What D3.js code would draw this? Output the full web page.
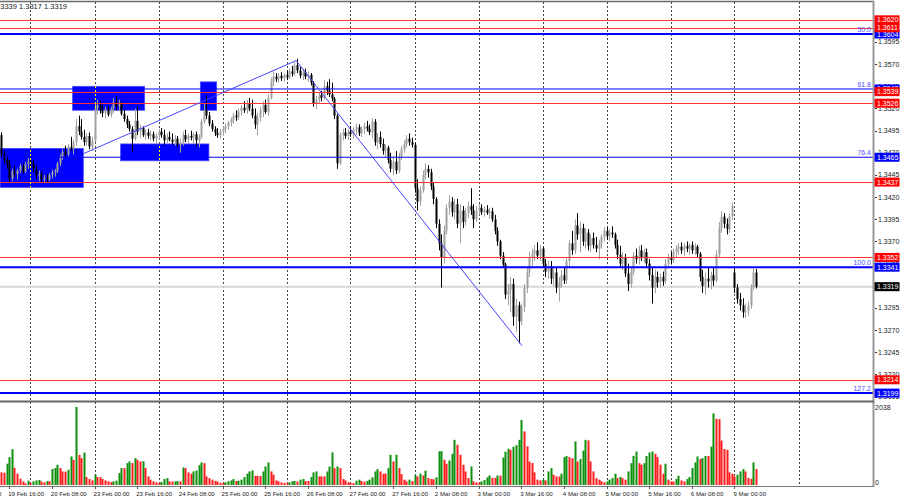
<!DOCTYPE html>
<html><head><meta charset="utf-8">
<script src="https://cdn.jsdelivr.net/npm/d3@7"></script>
<style>body{margin:0;background:#fff;} svg{display:block;font-family:"Liberation Sans",Arial,sans-serif;}</style>
</head><body><svg id="c" width="900" height="500"></svg>
<script>
// ---------- DATA ----------
const tradingDays = ["19 Feb","20 Feb","23 Feb","24 Feb","25 Feb","26 Feb","27 Feb","2 Mar","3 Mar","4 Mar","5 Mar","6 Mar","9 Mar","10 Mar"];
const firstBarHour = 13; // first bar: 19 Feb 13:00 (H1 bars)
const opens = [1.3490,1.3468,1.3462,1.3456,1.3441,1.3449,1.3446,1.3450,1.3455,1.3449,1.3457,
1.3461,1.3458,1.3452,1.3444,1.3446,1.3440,1.3442,1.3440,1.3445,1.3448,
1.3450,1.3458,1.3466,1.3471,1.3468,1.3477,1.3475,1.3482,1.3500,1.3494,
1.3488,1.3482,1.3489,1.3477,1.3484,1.3520,1.3524,1.3518,1.3515,1.3519,
1.3513,1.3520,1.3527,1.3522,1.3527,1.3514,1.3508,1.3502,1.3497,1.3486,
1.3506,1.3494,1.3498,1.3490,1.3493,1.3489,1.3491,1.3486,1.3489,1.3494,
1.3490,1.3484,1.3488,1.3485,1.3482,1.3486,1.3479,1.3482,1.3490,1.3485,
1.3489,1.3487,1.3491,1.3484,1.3488,1.3505,1.3518,1.3512,1.3503,1.3497,
1.3492,1.3490,1.3494,1.3497,1.3500,1.3504,1.3507,1.3512,1.3510,1.3517,
1.3521,1.3518,1.3526,1.3520,1.3512,1.3502,1.3510,1.3518,1.3524,1.3516,
1.3532,1.3550,1.3556,1.3553,1.3557,1.3554,1.3558,1.3555,1.3562,1.3559,
1.3569,1.3563,1.3557,1.3561,1.3556,1.3558,1.3549,1.3526,1.3530,1.3535,
1.3532,1.3545,1.3540,1.3536,1.3531,1.3512,1.3458,1.3490,1.3493,1.3489,
1.3494,1.3491,1.3496,1.3499,1.3492,1.3497,1.3500,1.3497,1.3493,1.3505,
1.3482,1.3488,1.3480,1.3472,1.3476,1.3462,1.3452,1.3460,1.3450,1.3466,
1.3474,1.3480,1.3486,1.3482,1.3479,1.3430,1.3415,1.3428,1.3445,1.3452,
1.3448,1.3432,1.3418,1.3390,1.3368,1.3352,1.3382,1.3408,1.3415,1.3403,
1.3412,1.3390,1.3405,1.3392,1.3402,1.3410,1.3405,1.3395,1.3405,1.3408,
1.3403,1.3406,1.3402,1.3404,1.3395,1.3382,1.3370,1.3354,1.3344,1.3310,
1.3315,1.3322,1.3285,1.3298,1.3280,1.3296,1.3318,1.3336,1.3352,1.3356,
1.3360,1.3354,1.3362,1.3345,1.3336,1.3342,1.3328,1.3335,1.3318,1.3325,
1.3332,1.3326,1.3348,1.3368,1.3360,1.3388,1.3378,1.3385,1.3370,1.3380,
1.3365,1.3374,1.3366,1.3362,1.3368,1.3375,1.3382,1.3376,1.3380,1.3378,
1.3366,1.3355,1.3345,1.3352,1.3334,1.3322,1.3336,1.3354,1.3350,1.3360,
1.3352,1.3358,1.3345,1.3332,1.3318,1.3330,1.3324,1.3330,1.3325,1.3345,
1.3352,1.3349,1.3358,1.3362,1.3364,1.3360,1.3365,1.3362,1.3366,1.3360,
1.3364,1.3356,1.3330,1.3320,1.3328,1.3325,1.3332,1.3326,1.3355,1.3385,
1.3398,1.3390,1.3384,1.3398,1.3335,1.3318,1.3305,1.3298,1.3290,1.3292,
1.3298,1.3318,1.3335];
const highs = [1.3493,1.3472,1.3466,1.3462,1.3452,1.3455,1.3452,1.3458,1.3458,1.3460,1.3464,
1.3468,1.3462,1.3456,1.3450,1.3449,1.3445,1.3446,1.3447,1.3451,1.3452,
1.3460,1.3468,1.3474,1.3478,1.3480,1.3488,1.3485,1.3508,1.3512,1.3508,
1.3496,1.3492,1.3493,1.3488,1.3525,1.3530,1.3528,1.3524,1.3522,1.3523,
1.3522,1.3532,1.3534,1.3530,1.3528,1.3518,1.3512,1.3506,1.3500,1.3520,
1.3522,1.3502,1.3500,1.3496,1.3497,1.3495,1.3494,1.3492,1.3497,1.3498,
1.3496,1.3492,1.3494,1.3492,1.3490,1.3489,1.3486,1.3494,1.3496,1.3492,
1.3495,1.3493,1.3494,1.3491,1.3508,1.3526,1.3535,1.3516,1.3507,1.3500,
1.3498,1.3497,1.3500,1.3503,1.3506,1.3510,1.3515,1.3518,1.3520,1.3524,
1.3528,1.3530,1.3532,1.3530,1.3520,1.3515,1.3522,1.3528,1.3530,1.3536,
1.3555,1.3562,1.3560,1.3560,1.3561,1.3560,1.3563,1.3565,1.3568,1.3572,
1.3576,1.3567,1.3565,1.3565,1.3562,1.3560,1.3551,1.3534,1.3538,1.3540,
1.3552,1.3550,1.3553,1.3549,1.3533,1.3514,1.3493,1.3497,1.3498,1.3497,
1.3500,1.3499,1.3503,1.3502,1.3500,1.3504,1.3506,1.3502,1.3509,1.3508,
1.3492,1.3494,1.3486,1.3480,1.3478,1.3470,1.3466,1.3472,1.3470,1.3478,
1.3484,1.3490,1.3492,1.3487,1.3481,1.3440,1.3432,1.3450,1.3458,1.3456,
1.3452,1.3436,1.3420,1.3395,1.3378,1.3388,1.3412,1.3422,1.3420,1.3418,
1.3418,1.3412,1.3410,1.3408,1.3415,1.3430,1.3412,1.3410,1.3412,1.3412,
1.3410,1.3411,1.3408,1.3408,1.3400,1.3386,1.3372,1.3358,1.3346,1.3322,
1.3330,1.3328,1.3305,1.3302,1.3300,1.3322,1.3340,1.3358,1.3362,1.3366,
1.3369,1.3366,1.3364,1.3350,1.3348,1.3348,1.3340,1.3340,1.3330,1.3338,
1.3340,1.3352,1.3372,1.3382,1.3395,1.3402,1.3392,1.3390,1.3385,1.3384,
1.3378,1.3380,1.3375,1.3372,1.3378,1.3386,1.3386,1.3384,1.3387,1.3380,
1.3372,1.3365,1.3358,1.3356,1.3345,1.3340,1.3358,1.3362,1.3365,1.3366,
1.3362,1.3362,1.3350,1.3340,1.3338,1.3336,1.3334,1.3336,1.3350,1.3356,
1.3358,1.3362,1.3366,1.3368,1.3369,1.3368,1.3370,1.3368,1.3370,1.3368,
1.3366,1.3358,1.3338,1.3335,1.3340,1.3336,1.3340,1.3360,1.3392,1.3404,
1.3402,1.3396,1.3402,1.3414,1.3340,1.3322,1.3312,1.3306,1.3300,1.3302,
1.3322,1.3340,1.3339];
const lows = [1.3465,1.3458,1.3452,1.3437,1.3438,1.3443,1.3440,1.3447,1.3446,1.3447,1.3452,
1.3455,1.3448,1.3440,1.3438,1.3437,1.3436,1.3437,1.3438,1.3441,1.3443,
1.3447,1.3455,1.3462,1.3465,1.3466,1.3472,1.3468,1.3478,1.3490,1.3485,
1.3478,1.3478,1.3474,1.3472,1.3482,1.3513,1.3514,1.3510,1.3509,1.3511,
1.3510,1.3515,1.3518,1.3517,1.3512,1.3505,1.3498,1.3494,1.3471,1.3484,
1.3490,1.3487,1.3488,1.3485,1.3486,1.3484,1.3483,1.3480,1.3485,1.3487,
1.3478,1.3481,1.3483,1.3479,1.3478,1.3476,1.3470,1.3478,1.3482,1.3480,
1.3484,1.3480,1.3478,1.3476,1.3486,1.3503,1.3508,1.3500,1.3494,1.3489,
1.3487,1.3486,1.3489,1.3492,1.3496,1.3500,1.3503,1.3506,1.3507,1.3512,
1.3515,1.3514,1.3517,1.3509,1.3497,1.3490,1.3505,1.3510,1.3514,1.3512,
1.3530,1.3545,1.3550,1.3549,1.3551,1.3550,1.3552,1.3553,1.3556,1.3557,
1.3560,1.3554,1.3552,1.3553,1.3550,1.3546,1.3522,1.3519,1.3526,1.3528,
1.3530,1.3535,1.3533,1.3528,1.3508,1.3452,1.3456,1.3484,1.3486,1.3485,
1.3488,1.3486,1.3490,1.3489,1.3488,1.3491,1.3494,1.3490,1.3486,1.3478,
1.3474,1.3476,1.3468,1.3465,1.3458,1.3448,1.3445,1.3446,1.3447,1.3462,
1.3470,1.3476,1.3478,1.3476,1.3425,1.3405,1.3410,1.3425,1.3440,1.3442,
1.3428,1.3412,1.3385,1.3360,1.3318,1.3345,1.3378,1.3400,1.3398,1.3395,
1.3385,1.3368,1.3385,1.3388,1.3396,1.3400,1.3385,1.3392,1.3400,1.3400,
1.3398,1.3400,1.3396,1.3392,1.3378,1.3365,1.3350,1.3340,1.3305,1.3298,
1.3290,1.3275,1.3268,1.3255,1.3276,1.3290,1.3312,1.3330,1.3340,1.3348,
1.3350,1.3348,1.3340,1.3330,1.3328,1.3322,1.3320,1.3312,1.3302,1.3318,
1.3322,1.3322,1.3340,1.3355,1.3356,1.3372,1.3358,1.3365,1.3362,1.3360,
1.3358,1.3362,1.3358,1.3350,1.3362,1.3370,1.3372,1.3370,1.3374,1.3362,
1.3350,1.3340,1.3338,1.3330,1.3314,1.3318,1.3332,1.3345,1.3344,1.3348,
1.3346,1.3340,1.3326,1.3300,1.3312,1.3318,1.3318,1.3320,1.3322,1.3340,
1.3344,1.3346,1.3352,1.3355,1.3356,1.3354,1.3358,1.3355,1.3356,1.3355,
1.3352,1.3325,1.3312,1.3310,1.3318,1.3316,1.3320,1.3324,1.3352,1.3380,
1.3385,1.3378,1.3380,1.3394,1.3312,1.3300,1.3292,1.3284,1.3284,1.3286,
1.3294,1.3315,1.3317];
const closes = [1.3468,1.3462,1.3456,1.3441,1.3449,1.3446,1.3450,1.3455,1.3449,1.3457,1.3461,
1.3458,1.3452,1.3444,1.3446,1.3440,1.3442,1.3440,1.3445,1.3448,1.3450,
1.3458,1.3466,1.3471,1.3468,1.3477,1.3475,1.3482,1.3500,1.3494,1.3488,
1.3482,1.3489,1.3477,1.3484,1.3520,1.3524,1.3518,1.3515,1.3519,1.3513,
1.3520,1.3527,1.3522,1.3527,1.3514,1.3508,1.3502,1.3497,1.3486,1.3506,
1.3494,1.3498,1.3490,1.3493,1.3489,1.3491,1.3486,1.3489,1.3494,1.3490,
1.3484,1.3488,1.3485,1.3482,1.3486,1.3479,1.3482,1.3490,1.3485,1.3489,
1.3487,1.3491,1.3484,1.3488,1.3505,1.3518,1.3512,1.3503,1.3497,1.3492,
1.3490,1.3494,1.3497,1.3500,1.3504,1.3507,1.3512,1.3510,1.3517,1.3521,
1.3518,1.3526,1.3520,1.3512,1.3502,1.3510,1.3518,1.3524,1.3516,1.3532,
1.3550,1.3556,1.3553,1.3557,1.3554,1.3558,1.3555,1.3562,1.3559,1.3569,
1.3563,1.3557,1.3561,1.3556,1.3558,1.3549,1.3526,1.3530,1.3535,1.3532,
1.3545,1.3540,1.3536,1.3531,1.3512,1.3458,1.3490,1.3493,1.3489,1.3494,
1.3491,1.3496,1.3499,1.3492,1.3497,1.3500,1.3497,1.3493,1.3505,1.3482,
1.3488,1.3480,1.3472,1.3476,1.3462,1.3452,1.3460,1.3450,1.3466,1.3474,
1.3480,1.3486,1.3482,1.3479,1.3430,1.3415,1.3428,1.3445,1.3452,1.3448,
1.3432,1.3418,1.3390,1.3368,1.3352,1.3382,1.3408,1.3415,1.3403,1.3412,
1.3390,1.3405,1.3392,1.3402,1.3410,1.3405,1.3395,1.3405,1.3408,1.3403,
1.3406,1.3402,1.3404,1.3395,1.3382,1.3370,1.3354,1.3344,1.3310,1.3315,
1.3322,1.3285,1.3298,1.3280,1.3296,1.3318,1.3336,1.3352,1.3356,1.3360,
1.3354,1.3362,1.3345,1.3336,1.3342,1.3328,1.3335,1.3318,1.3325,1.3332,
1.3326,1.3348,1.3368,1.3360,1.3388,1.3378,1.3385,1.3370,1.3380,1.3365,
1.3374,1.3366,1.3362,1.3368,1.3375,1.3382,1.3376,1.3380,1.3378,1.3366,
1.3355,1.3345,1.3352,1.3334,1.3322,1.3336,1.3354,1.3350,1.3360,1.3352,
1.3358,1.3345,1.3332,1.3318,1.3330,1.3324,1.3330,1.3325,1.3345,1.3352,
1.3349,1.3358,1.3362,1.3364,1.3360,1.3365,1.3362,1.3366,1.3360,1.3364,
1.3356,1.3330,1.3320,1.3328,1.3325,1.3332,1.3326,1.3355,1.3385,1.3398,
1.3390,1.3384,1.3398,1.3410,1.3318,1.3305,1.3298,1.3290,1.3292,1.3298,
1.3318,1.3335,1.3319];
const volumes = [330,320,555,728,936,450,294,164,94,40,113,
60,95,120,130,90,70,100,95,420,442,
528,442,355,350,398,745,658,2038,788,702,
848,208,156,120,268,208,205,156,120,95,
78,95,112,311,442,440,572,615,572,702,
658,615,620,442,225,138,95,70,60,80,
160,180,95,90,95,100,95,460,440,330,
295,355,380,520,590,570,225,180,140,105,
90,60,60,70,100,120,155,105,113,140,
208,295,355,380,240,240,235,355,485,590,
355,270,120,95,70,55,55,70,95,105,
90,140,155,104,104,208,330,355,225,225,
225,355,485,850,442,485,442,156,120,70,
55,52,113,140,104,87,104,140,200,355,
415,355,295,295,440,790,615,790,440,285,
140,95,140,104,250,225,295,250,373,182,
156,150,200,880,885,660,555,640,815,1180,
1050,790,530,355,182,485,95,70,60,95,
130,200,250,190,185,250,245,720,870,950,
920,1000,1040,1180,1700,1400,1010,615,575,330,
140,120,140,120,355,440,270,225,220,295,
730,760,730,700,1140,615,680,900,1180,1165,
615,355,180,140,95,70,95,140,180,295,
180,210,180,140,355,570,760,875,570,530,
570,760,850,875,815,730,530,295,555,140,
95,90,156,243,120,95,156,208,442,590,
745,680,700,760,755,1000,1873,1730,1720,1160,
940,920,330,295,225,268,355,415,355,182,
160,590,415];
const volumeMax = 2038;
const priceTicks = [1.3595,1.3570,1.3545,1.3520,1.3495,1.3470,1.3445,1.3420,1.3395,1.3370,1.3345,1.3320,1.3295,1.3270,1.3245,1.3220,1.3195];
const redLevels = [1.3620,1.3611,1.3539,1.3526,1.3437,1.3352,1.3214];
const fibPercents = ["50.0","61.8","76.4","100.0","127.2"];
const fibPrices = [1.3604,1.3542,1.3465,1.3341,1.3199];
const lastPrice = 1.3319;
const headerText = "1.3339 1.3317 1.3319";
// zones (time in trading hours from 19 Feb 00:00, price)
const zoneT0 = [12.6, 39.8, 57.8, 87.7];
const zoneT1 = [43.8, 66.8, 90.9, 93.8];
const zoneHi = [1.3475, 1.3545, 1.3480, 1.3550];
const zoneLo = [1.3431, 1.3518, 1.3461, 1.3518];
// trend line anchors
const trendT = [43.8, 123.6, 208.3];
const trendP = [1.3469, 1.3574, 1.32525];

// ---------- LAYOUT ----------
const W = 900, H = 500, plotR = 873, mainTop = 2, mainBot = 400, volTop = 402, volBot = 486;
const svg = d3.select("#c");
const x = d3.scaleLinear().domain([0, 336]).range([-33.5, 862.5]);
const y = d3.scaleLinear().domain([1.31912, 1.36401]).range([mainBot, mainTop]);
const yv = d3.scaleLinear().domain([0, volumeMax]).range([485, 407]);
const n = Math.min(opens.length, highs.length, lows.length, closes.length);
const bars = d3.range(n).map(k => ({h: k + firstBarHour, o: opens[k], hi: highs[k], lo: lows[k], c: closes[k], v: volumes[k]}));

const defs = svg.append("defs");
defs.append("clipPath").attr("id","mainClip").append("rect").attr("x",0).attr("y",mainTop).attr("width",plotR).attr("height",mainBot-mainTop);
defs.append("clipPath").attr("id","volClip").append("rect").attr("x",0).attr("y",volTop).attr("width",plotR).attr("height",volBot-volTop);
const zoneClip = defs.append("clipPath").attr("id","zoneClip");
const zones = d3.range(zoneT0.length).map(i => ({t0: zoneT0[i], t1: zoneT1[i], hi: zoneHi[i], lo: zoneLo[i]}));
zones.forEach(z => zoneClip.append("rect").attr("x", x(z.t0)).attr("y", y(z.hi)).attr("width", x(z.t1)-x(z.t0)).attr("height", y(z.lo)-y(z.hi)));

svg.append("rect").attr("width",W).attr("height",H).attr("fill","#fff");
const main = svg.append("g").attr("clip-path","url(#mainClip)");

// zones
main.selectAll("rect.zone").data(zones).join("rect").attr("class","zone")
  .attr("x", d => x(d.t0)).attr("y", d => y(d.hi))
  .attr("width", d => x(d.t1)-x(d.t0)).attr("height", d => y(d.lo)-y(d.hi))
  .attr("fill","#0000ff").attr("stroke","#4a4aff").attr("stroke-width",0.8);

// grid
const dayStarts = d3.range(1, tradingDays.length).map(d => d*24);
const gridX = h => Math.round(x(h)) + 0.5;
main.selectAll("line.grid").data(dayStarts).join("line").attr("class","grid")
  .attr("x1",gridX).attr("x2",gridX).attr("y1",mainTop).attr("y2",mainBot)
  .attr("stroke","#444").attr("stroke-width",1).attr("stroke-dasharray","2,2");
svg.append("g").attr("clip-path","url(#zoneClip)").selectAll("line").data(dayStarts).join("line")
  .attr("x1",gridX).attr("x2",gridX).attr("y1",mainTop).attr("y2",mainBot)
  .attr("stroke","#ffff00").attr("stroke-width",1).attr("stroke-dasharray","2,2");
svg.append("g").attr("clip-path","url(#volClip)").selectAll("line").data(dayStarts).join("line")
  .attr("x1",gridX).attr("x2",gridX).attr("y1",volTop).attr("y2",volBot)
  .attr("stroke","#444").attr("stroke-width",1).attr("stroke-dasharray","2,2");

// bid line
main.append("line").attr("x1",0).attr("x2",plotR).attr("y1",y(lastPrice)).attr("y2",y(lastPrice))
  .attr("stroke","#d8d8d8").attr("stroke-width",2);

// candles
const bull = "#a0a0a0", bear = "#000";
const cg = main.append("g");
cg.selectAll("line.wick").data(bars).join("line").attr("class","wick")
  .attr("x1", d => Math.round(x(d.h))+0.5).attr("x2", d => Math.round(x(d.h))+0.5)
  .attr("y1", d => y(d.hi)).attr("y2", d => y(d.lo))
  .attr("stroke", d => d.c >= d.o ? bull : bear).attr("stroke-width",1);
cg.selectAll("rect.body").data(bars).join("rect").attr("class","body")
  .attr("x", d => Math.round(x(d.h))-0.5).attr("width",2)
  .attr("y", d => y(Math.max(d.o,d.c))).attr("height", d => Math.max(1, Math.abs(y(d.o)-y(d.c))))
  .attr("fill", d => d.c >= d.o ? bull : bear);

// level lines
main.selectAll("line.red").data(redLevels).join("line").attr("class","red")
  .attr("x1",0).attr("x2",plotR).attr("y1", d => Math.round(y(d))+0.5).attr("y2", d => Math.round(y(d))+0.5)
  .attr("stroke","#ff3030").attr("stroke-width",1);
const fibs = fibPrices.map((p,i) => ({p, pct: fibPercents[i], thick: i !== 1 && i !== 2}));
main.selectAll("line.fib").data(fibs).join("line").attr("class","fib")
  .attr("x1",0).attr("x2",plotR).attr("y1", d => y(d.p)).attr("y2", d => y(d.p))
  .attr("stroke","#0000ff").attr("stroke-width", d => d.thick ? 2 : 1);
main.selectAll("text.fib").data(fibs).join("text").attr("class","fib")
  .attr("x", 871).attr("y", d => y(d.p) - 2).attr("text-anchor","end")
  .attr("font-size",7).attr("fill","#5050ff").text(d => d.pct);

// trend lines
const trend = d3.line().x(d => x(d[0])).y(d => y(d[1]));
main.append("path").attr("d", trend(trendT.map((t,i) => [t, trendP[i]])))
  .attr("fill","none").attr("stroke","#4646ff").attr("stroke-width",1);

// header text
svg.append("text").attr("x",-6).attr("y",9).attr("font-size",7.5).attr("fill","#222").text(headerText);

// volume bars
const vg = svg.append("g").attr("clip-path","url(#volClip)");
vg.selectAll("rect").data(bars).join("rect")
  .attr("x", d => Math.round(x(d.h))-0.5).attr("width",2)
  .attr("y", d => yv(d.v)).attr("height", d => yv(0)-yv(d.v))
  .attr("fill", (d,i) => (i > 0 && d.v > bars[i-1].v) ? "#0e8f0e" : "#ff1c1c");

// frame
svg.append("line").attr("x1",0).attr("x2",plotR+1).attr("y1",1.5).attr("y2",1.5).attr("stroke","#6a6a6a").attr("stroke-width",1.5);
svg.append("line").attr("x1",plotR+0.5).attr("x2",plotR+0.5).attr("y1",1).attr("y2",volBot+1).attr("stroke","#999").attr("stroke-width",2);
svg.append("line").attr("x1",0).attr("x2",plotR+1).attr("y1",401.5).attr("y2",401.5).attr("stroke","#666").attr("stroke-width",2);
svg.append("line").attr("x1",0).attr("x2",plotR+1).attr("y1",volBot+0.5).attr("y2",volBot+0.5).attr("stroke","#777").attr("stroke-width",1.2);

// price axis ticks
const ax = svg.append("g").attr("font-size",7).attr("fill","#222");
ax.selectAll("line").data(priceTicks).join("line")
  .attr("x1",plotR+2).attr("x2",plotR+4).attr("y1", d => Math.round(y(d))+0.5).attr("y2", d => Math.round(y(d))+0.5)
  .attr("stroke","#333");
ax.selectAll("text").data(priceTicks).join("text")
  .attr("x", 878).attr("y", d => y(d)+2.5).text(d => d.toFixed(4));

// colored price labels
const tags = [];
fibs.forEach(f => tags.push({p: f.p, col: "#0000ff"}));
redLevels.forEach(p => tags.push({p, col: "#ff0000"}));
tags.push({p: lastPrice, col: "#000"});
const tg = svg.append("g").selectAll("g").data(tags).join("g");
tg.append("rect").attr("x", plotR+1.5).attr("y", d => y(d.p)-4.5).attr("width",25).attr("height",9).attr("fill", d => d.col);
tg.append("text").attr("x", plotR+4).attr("y", d => y(d.p)+2.5).attr("font-size",7).attr("fill","#fff").text(d => d.p.toFixed(4));

// volume axis labels
svg.append("text").attr("x",875).attr("y",410).attr("font-size",7).attr("fill","#222").text(String(volumeMax));
svg.append("text").attr("x",875).attr("y",485).attr("font-size",7).attr("fill","#222").text("0");

// time labels
const lastH = bars[bars.length-1].h;
const labelHours = d3.range(0, lastH + 1, 16);
const fmtH = h => tradingDays[Math.floor(h/24)] + " " + String(h % 24).padStart(2,"0") + ":00";
const tl = svg.append("g");
tl.selectAll("line").data(labelHours).join("line")
  .attr("x1", d => Math.round(x(d))+0.5).attr("x2", d => Math.round(x(d))+0.5).attr("y1", volBot).attr("y2", volBot+3)
  .attr("stroke","#555");
tl.selectAll("text").data(labelHours).join("text")
  .attr("x", d => x(d) - 1).attr("y", 495.5).attr("font-size",6.1).attr("fill","#222").text(fmtH);
</script>
</body></html>
